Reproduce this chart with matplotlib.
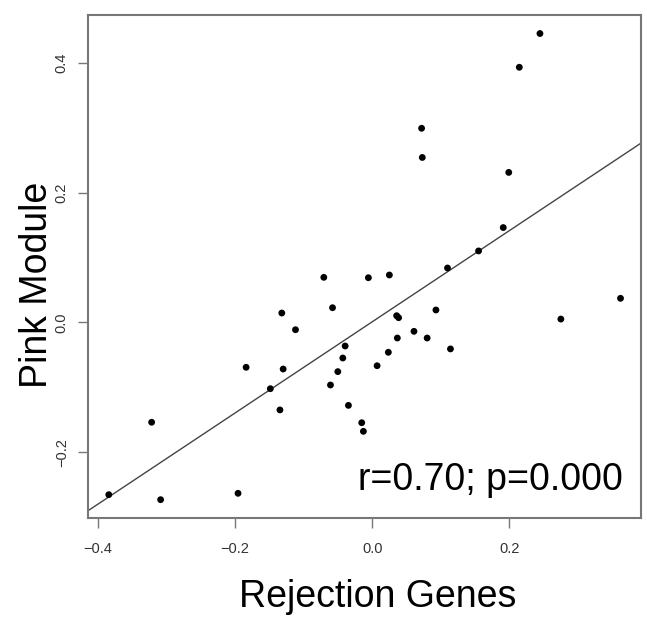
import numpy as np
import matplotlib
matplotlib.use("Agg")
import matplotlib.pyplot as plt

rejection_genes = [0.2445, 0.2144, 0.0719, 0.0729, 0.199, 0.191, 0.155, 0.1097, -0.0057, 0.0249,
                   0.362, 0.0928, 0.275, 0.0355, 0.0384, 0.0608, 0.080, 0.0365, 0.114, 0.0234,
                   0.007, -0.0396, -0.043, -0.0348, -0.0154, -0.013, -0.058, -0.132, -0.112, -0.0503,
                   -0.061, -0.184, -0.130, -0.1487, -0.1347, -0.3218, -0.3843, -0.3087, -0.1958, -0.0707]
pink_module = [0.445, 0.393, 0.299, 0.254, 0.231, 0.146, 0.110, 0.0837, 0.0687, 0.0729,
               0.037, 0.019, 0.005, 0.0102, 0.0071, -0.0139, -0.0242, -0.0242, -0.041, -0.0462,
               -0.0669, -0.0365, -0.055, -0.128, -0.1547, -0.168, 0.0225, 0.0143, -0.0114, -0.076,
               -0.0966, -0.0693, -0.072, -0.1023, -0.135, -0.154, -0.2656, -0.2733, -0.2635, 0.0693]
x_ticks = [-0.4, -0.2, 0.0, 0.2]
y_ticks = [-0.2, 0.0, 0.2, 0.4]
annotation = "r=0.70; p=0.000"

x = np.array(rejection_genes)
y = np.array(pink_module)

plt.rcParams['font.family'] = ['Liberation Sans', 'DejaVu Sans']
fig = plt.figure(figsize=(6.47, 6.2), dpi=100)
ax = fig.add_axes([0.1365, 0.164, 0.9907 - 0.1365, 0.976 - 0.164])

ax.scatter(x, y, s=24, c='black', edgecolors='none', zorder=3)
slope, intercept = np.polyfit(x, y, 1)
ax.axline((0, intercept), slope=slope, color='#444444', lw=1.0, zorder=2)

xr = x.max() - x.min()
yr = y.max() - y.min()
ax.set_xlim(x.min() - 0.04 * xr, x.max() + 0.04 * xr)
ax.set_ylim(y.min() - 0.04 * yr, y.max() + 0.04 * yr)

ax.set_xticks(x_ticks)
ax.set_xticklabels([f"{t:.1f}".replace('-', '\u2212') for t in x_ticks])
ax.set_yticks(y_ticks)
ax.set_yticklabels([f"{t:.1f}".replace('-', '\u2212') for t in y_ticks], rotation=90, va='center')

for s in ax.spines.values():
    s.set_color('#777777')
    s.set_linewidth(1.5)
ax.tick_params(axis='both', direction='out', length=7, width=1.0, color='#777777',
               labelsize=10.5, labelcolor='#333333')
ax.tick_params(axis='x', pad=10)
ax.tick_params(axis='y', pad=7)

ax.set_xlabel("Rejection Genes", fontsize=27)
ax.xaxis.label.set_va('baseline')
ax.xaxis.set_label_coords(0.523, -0.176)
ax.set_ylabel("Pink Module", fontsize=27)
ax.yaxis.label.set_va('baseline')
ax.yaxis.set_label_coords(-0.0747, 0.463)

ax.text(0.967, 0.0556, annotation, transform=ax.transAxes, ha='right', va='baseline', fontsize=27)

fig.savefig("out.png", dpi=100)
